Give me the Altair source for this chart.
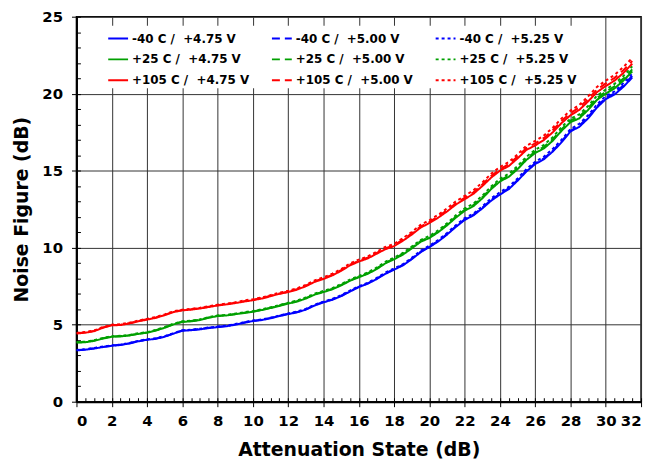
import altair as alt
import pandas as pd

# Attenuation states (dB)
atten = [0.0, 0.5, 1.0, 1.5, 2.0, 2.5, 3.0, 3.5,
         4.0, 4.5, 5.0, 5.5, 6.0, 6.5, 7.0, 7.5,
         8.0, 8.5, 9.0, 9.5, 10.0, 10.5, 11.0, 11.5,
         12.0, 12.5, 13.0, 13.5, 14.0, 14.5, 15.0, 15.5,
         16.0, 16.5, 17.0, 17.5, 18.0, 18.5, 19.0, 19.5,
         20.0, 20.5, 21.0, 21.5, 22.0, 22.5, 23.0, 23.5,
         24.0, 24.5, 25.0, 25.5, 26.0, 26.5, 27.0, 27.5,
         28.0, 28.5, 29.0, 29.5, 30.0, 30.5, 31.0, 31.5]

nf_m40_475 = [3.33, 3.38, 3.45, 3.55, 3.63, 3.68, 3.78, 3.92,
              4.02, 4.08, 4.22, 4.42, 4.61, 4.64, 4.70, 4.78,
              4.84, 4.90, 5.00, 5.12, 5.24, 5.30, 5.42, 5.56,
              5.69, 5.80, 5.98, 6.25, 6.45, 6.62, 6.85, 7.15,
              7.44, 7.66, 7.95, 8.30, 8.57, 8.85, 9.25, 9.70,
              10.04, 10.40, 10.85, 11.35, 11.80, 12.10, 12.55, 13.05,
              13.45, 13.80, 14.35, 14.95, 15.43, 15.75, 16.25, 16.85,
              17.55, 17.85, 18.40, 19.10, 19.65, 19.95, 20.45, 21.05]
nf_m40_500 = [3.35, 3.40, 3.47, 3.56, 3.64, 3.70, 3.80, 3.93,
              4.03, 4.10, 4.24, 4.43, 4.62, 4.66, 4.72, 4.80,
              4.86, 4.92, 5.02, 5.14, 5.25, 5.32, 5.44, 5.58,
              5.71, 5.82, 6.00, 6.27, 6.47, 6.64, 6.88, 7.18,
              7.46, 7.68, 7.98, 8.33, 8.60, 8.88, 9.28, 9.73,
              10.07, 10.43, 10.88, 11.39, 11.84, 12.14, 12.60, 13.10,
              13.50, 13.85, 14.40, 15.00, 15.48, 15.80, 16.30, 16.92,
              17.60, 17.92, 18.48, 19.18, 19.72, 20.02, 20.55, 21.15]
nf_m40_525 = [3.36, 3.41, 3.48, 3.58, 3.66, 3.71, 3.82, 3.95,
              4.05, 4.12, 4.26, 4.45, 4.64, 4.68, 4.74, 4.82,
              4.88, 4.94, 5.04, 5.16, 5.27, 5.34, 5.46, 5.60,
              5.73, 5.85, 6.03, 6.30, 6.50, 6.67, 6.92, 7.22,
              7.50, 7.72, 8.02, 8.38, 8.65, 8.93, 9.34, 9.80,
              10.13, 10.50, 10.95, 11.46, 11.92, 12.22, 12.68, 13.20,
              13.60, 13.95, 14.50, 15.10, 15.58, 15.92, 16.42, 17.02,
              17.70, 18.05, 18.60, 19.30, 19.85, 20.15, 20.70, 21.30]

nf_p25_475 = [3.84, 3.86, 3.95, 4.10, 4.22, 4.24, 4.30, 4.40,
              4.48, 4.62, 4.80, 5.02, 5.18, 5.22, 5.30, 5.45,
              5.56, 5.60, 5.68, 5.76, 5.84, 5.95, 6.08, 6.22,
              6.37, 6.50, 6.70, 6.95, 7.12, 7.30, 7.55, 7.85,
              8.08, 8.30, 8.60, 8.98, 9.25, 9.55, 9.95, 10.38,
              10.63, 11.00, 11.45, 11.95, 12.40, 12.70, 13.20, 13.80,
              14.30, 14.60, 15.10, 15.70, 16.15, 16.45, 16.95, 17.60,
              18.15, 18.40, 18.95, 19.60, 20.00, 20.35, 20.85, 21.45]
nf_p25_500 = [3.86, 3.88, 3.97, 4.12, 4.23, 4.26, 4.32, 4.42,
              4.50, 4.64, 4.82, 5.04, 5.20, 5.24, 5.32, 5.47,
              5.58, 5.62, 5.70, 5.78, 5.86, 5.97, 6.10, 6.25,
              6.40, 6.53, 6.73, 6.98, 7.15, 7.33, 7.58, 7.88,
              8.11, 8.34, 8.64, 9.02, 9.29, 9.60, 10.00, 10.43,
              10.68, 11.05, 11.50, 12.01, 12.46, 12.77, 13.27, 13.87,
              14.37, 14.68, 15.18, 15.78, 16.24, 16.55, 17.05, 17.70,
              18.25, 18.52, 19.06, 19.72, 20.12, 20.48, 20.98, 21.58]
nf_p25_525 = [3.87, 3.90, 3.99, 4.14, 4.25, 4.28, 4.34, 4.44,
              4.52, 4.66, 4.85, 5.07, 5.22, 5.26, 5.35, 5.50,
              5.60, 5.64, 5.72, 5.81, 5.89, 6.00, 6.13, 6.28,
              6.43, 6.57, 6.77, 7.02, 7.19, 7.37, 7.63, 7.93,
              8.16, 8.39, 8.70, 9.08, 9.35, 9.66, 10.07, 10.50,
              10.76, 11.13, 11.58, 12.10, 12.55, 12.86, 13.37, 13.97,
              14.47, 14.80, 15.30, 15.90, 16.36, 16.68, 17.18, 17.84,
              18.38, 18.66, 19.20, 19.87, 20.27, 20.64, 21.15, 21.78]

nf_p105_475 = [4.43, 4.48, 4.58, 4.80, 4.96, 4.98, 5.08, 5.22,
               5.33, 5.45, 5.62, 5.82, 5.93, 5.98, 6.05, 6.15,
               6.25, 6.32, 6.40, 6.50, 6.59, 6.70, 6.85, 7.00,
               7.12, 7.28, 7.50, 7.78, 7.97, 8.20, 8.50, 8.85,
               9.10, 9.30, 9.60, 9.90, 10.10, 10.45, 10.85, 11.30,
               11.60, 11.95, 12.35, 12.80, 13.15, 13.50, 14.00, 14.55,
               15.00, 15.30, 15.80, 16.35, 16.64, 17.00, 17.50, 18.10,
               18.60, 18.95, 19.50, 20.10, 20.50, 20.85, 21.35, 21.95]
nf_p105_500 = [4.45, 4.50, 4.60, 4.82, 4.97, 5.00, 5.10, 5.24,
               5.35, 5.47, 5.64, 5.84, 5.95, 6.00, 6.07, 6.17,
               6.27, 6.34, 6.42, 6.53, 6.62, 6.73, 6.88, 7.03,
               7.15, 7.31, 7.53, 7.82, 8.01, 8.24, 8.54, 8.90,
               9.15, 9.35, 9.65, 9.96, 10.16, 10.52, 10.92, 11.37,
               11.68, 12.03, 12.43, 12.89, 13.24, 13.60, 14.10, 14.66,
               15.10, 15.42, 15.92, 16.47, 16.78, 17.13, 17.64, 18.24,
               18.74, 19.10, 19.66, 20.26, 20.67, 21.03, 21.53, 22.12]
nf_p105_525 = [4.47, 4.52, 4.63, 4.85, 5.00, 5.03, 5.13, 5.27,
               5.38, 5.50, 5.67, 5.87, 5.98, 6.03, 6.10, 6.20,
               6.30, 6.37, 6.46, 6.57, 6.66, 6.77, 6.92, 7.08,
               7.20, 7.36, 7.59, 7.88, 8.08, 8.31, 8.61, 8.98,
               9.23, 9.43, 9.73, 10.05, 10.25, 10.62, 11.02, 11.48,
               11.78, 12.14, 12.55, 13.01, 13.36, 13.73, 14.23, 14.80,
               15.24, 15.56, 16.06, 16.62, 16.93, 17.29, 17.80, 18.40,
               18.90, 19.27, 19.83, 20.44, 20.85, 21.22, 21.73, 22.32]

series_names = [
    "-40 C / \u00a0+4.75 V", "-40 C / \u00a0+5.00 V", "-40 C / \u00a0+5.25 V",
    "+25 C / \u00a0+4.75 V", "+25 C / \u00a0+5.00 V", "+25 C / \u00a0+5.25 V",
    "+105 C / \u00a0+4.75 V", "+105 C / \u00a0+5.00 V", "+105 C / \u00a0+5.25 V",
]
series_values = [nf_m40_475, nf_m40_500, nf_m40_525,
                 nf_p25_475, nf_p25_500, nf_p25_525,
                 nf_p105_475, nf_p105_500, nf_p105_525]
series_colors = ["#0000ff", "#0000ff", "#0000ff",
                 "#00a000", "#00a000", "#00a000",
                 "#ff0000", "#ff0000", "#ff0000"]
series_dashes = [[1, 0], [8, 5], [3, 3],
                 [1, 0], [8, 5], [3, 3],
                 [1, 0], [8, 5], [3, 3]]

x_ticks = [0, 2, 4, 6, 8, 10, 12, 14, 16, 18, 20, 22, 24, 26, 28, 30, 32]
y_ticks = [0, 5, 10, 15, 20, 25]
x_minor = [i * 0.5 for i in range(65)]
y_minor = list(range(26))

rows = []
for name, vals in zip(series_names, series_values):
    for a, v in zip(atten, vals):
        rows.append({"atten": a, "nf": v, "series": name})
df = pd.DataFrame(rows)

FONT = "DejaVu Sans"

leg = alt.Legend(
    title=None, orient="none", legendX=29, legendY=9, columns=3,
    direction="horizontal",
    fillColor="white", padding=2, symbolType="stroke", symbolSize=400,
    symbolStrokeWidth=2, labelFont=FONT, labelFontSize=12,
    labelFontWeight="bold", labelColor="black", columnPadding=18,
    rowPadding=4, labelLimit=300, labelOffset=3,
)

xscale = alt.Scale(domain=[0, 32], nice=False, zero=False)
yscale = alt.Scale(domain=[0, 25], nice=False, zero=False)

lines = alt.Chart(df).mark_line(strokeWidth=2, clip=True).encode(
    x=alt.X("atten:Q", scale=xscale,
            axis=alt.Axis(values=x_ticks, title="Attenuation State (dB)",
                          grid=True, tickSize=5, labelPadding=7,
                          titlePadding=12, format="d")),
    y=alt.Y("nf:Q", scale=yscale,
            axis=alt.Axis(values=y_ticks, title="Noise Figure (dB)",
                          grid=True, tickSize=5, labelPadding=9,
                          titlePadding=10, format="d")),
    color=alt.Color("series:N",
                    scale=alt.Scale(domain=series_names, range=series_colors),
                    legend=leg),
    strokeDash=alt.StrokeDash("series:N",
                              scale=alt.Scale(domain=series_names, range=series_dashes),
                              legend=leg),
)

minor = alt.Chart(df).mark_line(opacity=0).encode(
    x=alt.X("atten:Q", scale=xscale, title="",
            axis=alt.Axis(orient="bottom", offset=-4, values=x_minor, tickSize=4,
                          labels=False, domain=False, grid=False)),
    y=alt.Y("nf:Q", scale=yscale, title="",
            axis=alt.Axis(orient="left", offset=-4, values=y_minor, tickSize=4,
                          labels=False, domain=False, grid=False)),
    detail="series:N",
)

chart = alt.layer(lines, minor).resolve_axis(
    x="independent", y="independent"
).properties(
    width=569, height=388,
    padding={"left": 69, "top": 7, "right": 8, "bottom": 60},
    autosize=alt.AutoSizeParams(type="none"),
).configure_axis(
    labelFont=FONT, labelFontWeight="bold", labelFontSize=15, labelColor="black",
    titleFont=FONT, titleFontWeight="bold", titleFontSize=19, titleColor="black",
    domainColor="black", domainWidth=2, tickColor="black", tickWidth=1,
    gridColor="#333333", gridWidth=1, gridOpacity=1,
).configure_view(stroke="black", strokeWidth=1.5)

chart.save("out.html", embed_options={"renderer": "svg", "actions": False})
